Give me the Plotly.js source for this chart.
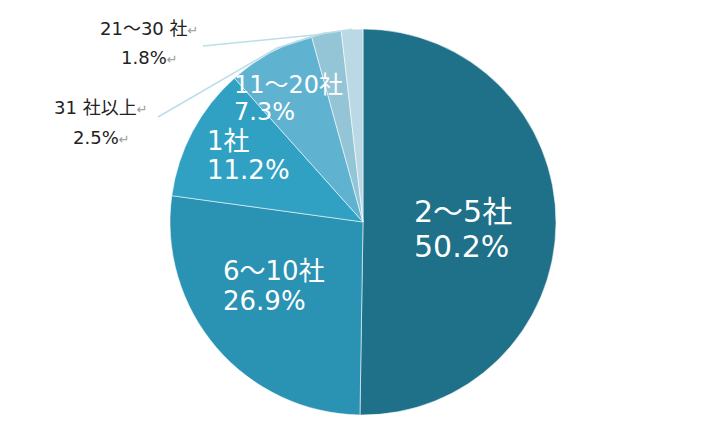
<!DOCTYPE html>
<html>
<head>
<meta charset="utf-8">
<script src="https://cdn.plot.ly/plotly-3.0.1.min.js"></script>
<style>html,body{margin:0;padding:0;background:#fff;}#chart{width:710px;height:435px;}</style>
</head>
<body>
<div id="chart"></div>
<script>
// ---- data ----
const categories = ["2～5社", "6～10社", "1社", "11～20社", "31 社以上", "21～30 社"];
const shares = [50.2, 26.9, 11.2, 7.3, 2.5, 1.8];
const sliceColors = ["#1f7089", "#2a92b2", "#31a1c3", "#60b3d0", "#93c5d7", "#bad9e5"];

// ---- layout constants ----
const W = 710, H = 435;
const CX = 363, CY = 222, R = 193;
const FONT = "DejaVu Sans, Noto Sans CJK JP, sans-serif";
const pct = shares.map(v => v.toFixed(1) + "%");

// in-slice label placement (px): left x, line1 y, line2 y, size
const insidePos = [
  {x: 412, y1: 212, y2: 247, size: 30},
  {x: 221, y1: 271, y2: 301, size: 26},
  {x: 205, y1: 141, y2: 170, size: 26},
  {x: 232, y1: 85, y2: 112, size: 24}
];
// outside label placement (px): center x, line1 y, line2 y, leader tail and bend
const outsidePos = {
  5: {x: 149, y1: 29, y2: 58, tx: 203, ty: 46, bx: 314, by: 35},
  4: {x: 101, y1: 107, y2: 137, tx: 158, ty: 117, bx: 277, by: 48}
};

const px = x => x / W;
const py = y => 1 - y / H;

const annotations = [];
insidePos.forEach((p, i) => {
  annotations.push({xref: "paper", yref: "paper", x: px(p.x), y: py(p.y1), xanchor: "left", yanchor: "middle",
    text: categories[i], showarrow: false, font: {family: FONT, size: p.size, color: "#ffffff"}});
  annotations.push({xref: "paper", yref: "paper", x: px(p.x), y: py(p.y2), xanchor: "left", yanchor: "middle",
    text: pct[i], showarrow: false, font: {family: FONT, size: p.size, color: "#ffffff"}});
});
const mark = '<span style="color:#9a9a9a;font-size:13px">↵</span>';
const shapes = [];
const total = shares.reduce((a, b) => a + b, 0);
let cum = 0;
const mids = shares.map(v => { const m = (cum + v / 2) / total; cum += v; return m; });
Object.keys(outsidePos).forEach(k => {
  const i = +k, p = outsidePos[k];
  annotations.push({xref: "paper", yref: "paper", x: px(p.x), y: py(p.y1), xanchor: "center", yanchor: "middle",
    text: categories[i] + mark, showarrow: false, font: {family: FONT, size: 18, color: "#222222"}});
  annotations.push({xref: "paper", yref: "paper", x: px(p.x), y: py(p.y2), xanchor: "center", yanchor: "middle",
    text: pct[i] + mark, showarrow: false, font: {family: FONT, size: 18, color: "#222222"}});
  const th = 2 * Math.PI * mids[i];
  const ex = CX + R * Math.sin(th), ey = CY - R * Math.cos(th);
  shapes.push({type: "path", xref: "paper", yref: "paper",
    path: "M " + px(p.tx) + "," + py(p.ty) + " L " + px(p.bx) + "," + py(p.by) + " L " + px(ex) + "," + py(ey),
    line: {color: "#bcdde9", width: 1.5}});
});

const trace = {
  type: "pie",
  labels: categories,
  values: shares,
  sort: false,
  direction: "clockwise",
  rotation: 0,
  textinfo: "none",
  hoverinfo: "label+value",
  marker: {colors: sliceColors, line: {color: "rgba(255,255,255,0.55)", width: 1}},
  domain: {x: [px(CX - R), px(CX + R)], y: [py(CY + R), py(CY - R)]},
  showlegend: false
};

Plotly.newPlot("chart", [trace], {
  width: W, height: H,
  margin: {l: 0, r: 0, t: 0, b: 0},
  paper_bgcolor: "#ffffff",
  showlegend: false,
  annotations: annotations,
  shapes: shapes
}, {displayModeBar: false, staticPlot: true});
</script>
</body>
</html>
